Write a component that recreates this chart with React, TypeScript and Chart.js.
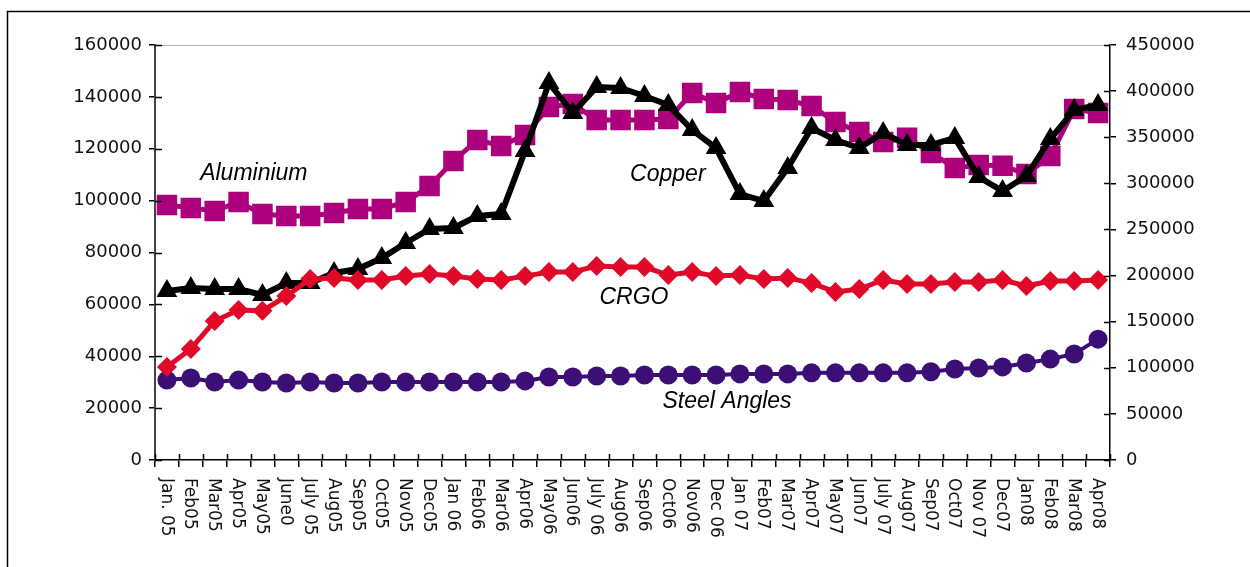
import React, { useEffect, useRef } from "react";
import { Chart, registerables } from "chart.js";

Chart.register(...registerables);

const months = [
  "Jan. 05", "Feb05", "Mar05", "Apr05", "May05", "June0", "July 05", "Aug05", "Sep05", "Oct05", "Nov05", "Dec05",
  "Jan 06", "Feb06", "Mar06", "Apr06", "May06", "Jun06", "July 06", "Aug06", "Sep06", "Oct06", "Nov06", "Dec 06",
  "Jan 07", "Feb07", "Mar07", "Apr07", "May07", "Jun07", "July 07", "Aug07", "Sep07", "Oct07", "Nov 07", "Dec07",
  "Jan08", "Feb08", "Mar08", "Apr08",
];

const aluminium = [
  98300, 97200, 96000, 99500, 94800, 94100, 94100, 95200, 96800, 96800, 99500, 105600,
  115300, 123400, 121100, 125300, 136100, 137300, 131100, 131100, 131100, 131500, 141500, 137600,
  141900, 139200, 138800, 136500, 130300, 126500, 122600, 124200, 118400, 112600, 113700, 113400,
  110300, 117200, 135300, 133800,
];

const copper = [
  183300, 186500, 185400, 185400, 178900, 191900, 191900, 202800, 207100, 219000, 235300, 250500,
  251600, 264600, 266700, 335000, 408800, 376300, 404500, 403400, 394700, 384900, 357800, 338300,
  288400, 280800, 316600, 360000, 347000, 338300, 354600, 341600, 341600, 349200, 306900, 291700,
  308000, 348100, 379500, 384900,
];

const crgo = [
  35900, 42800, 53600, 57800, 57500, 63200, 69800, 70200, 69400, 69400, 70900, 71700,
  70900, 69800, 69400, 70900, 72500, 72500, 74800, 74400, 74400, 71300, 72500, 70900,
  71300, 69800, 70200, 68200, 64800, 65900, 69400, 67900, 67900, 68600, 68600, 69400,
  67100, 69000, 69000, 69400,
];

const steelAngles = [
  30800, 31600, 30100, 30800, 30100, 29700, 30100, 29700, 29700, 30100, 30100, 30100,
  30100, 30100, 30100, 30500, 32000, 32000, 32400, 32400, 32800, 32800, 32800, 32800,
  33200, 33200, 33200, 33600, 33600, 33600, 33600, 33600, 34000, 35100, 35500, 35900,
  37400, 38900, 40900, 46600,
];

const leftAxisMax = 160000;
const leftAxisStep = 20000;
const rightAxisMax = 450000;
const rightAxisStep = 50000;

const seriesNames = ["Aluminium", "Copper", "CRGO", "Steel Angles"];
// annotation anchors in data space: [category index, left-axis value]
const annotationIndex = [3.64, 20.98, 19.56, 23.46];
const annotationValue = [110600, 109900, 62500, 22400];

const overlayPlugin = {
  id: "overlay",
  beforeDraw(chart: any) {
    const ctx = chart.ctx;
    ctx.save();
    ctx.fillStyle = "#ffffff";
    ctx.fillRect(0, 0, chart.width, chart.height);
    ctx.strokeStyle = "#000000";
    ctx.lineWidth = 1.5;
    ctx.strokeRect(7.5, 11.5, 1400, 700);
    const a = chart.chartArea;
    ctx.strokeStyle = "#b0b0b0";
    ctx.lineWidth = 1;
    ctx.beginPath();
    ctx.moveTo(a.left, a.top + 0.5);
    ctx.lineTo(a.right, a.top + 0.5);
    ctx.stroke();
    ctx.restore();
  },
  afterDraw(chart: any) {
    const ctx = chart.ctx;
    const a = chart.chartArea;
    const xs = chart.scales.x;
    const yl = chart.scales.yLeft;
    const yr = chart.scales.yRight;
    ctx.save();
    ctx.strokeStyle = "#000000";
    ctx.lineWidth = 1.5;
    ctx.beginPath();
    for (let v = 0; v <= leftAxisMax; v += leftAxisStep) {
      const y = Math.round(yl.getPixelForValue(v)) + 0.5;
      ctx.moveTo(a.left, y);
      ctx.lineTo(a.left + 7, y);
    }
    for (let v = 0; v <= rightAxisMax; v += rightAxisStep) {
      const y = Math.round(yr.getPixelForValue(v)) + 0.5;
      ctx.moveTo(a.right, y);
      ctx.lineTo(a.right - 6, y);
    }
    const n = months.length;
    for (let i = 0; i <= n; i++) {
      const x = Math.round(xs.getPixelForValue(i - 0.5)) + 0.5;
      ctx.moveTo(x, a.bottom);
      ctx.lineTo(x, a.bottom - 6);
    }
    ctx.stroke();

    ctx.fillStyle = "#111111";
    ctx.font = '17px "DejaVu Sans"';
    ctx.textAlign = "left";
    ctx.textBaseline = "middle";
    months.forEach((m, i) => {
      const x = xs.getPixelForValue(i);
      ctx.save();
      ctx.translate(x - 1, a.bottom + 18);
      ctx.rotate(Math.PI / 2);
      ctx.fillText(m, 0, 0);
      ctx.restore();
    });

    ctx.font = 'italic 23px "Liberation Sans"';
    ctx.textAlign = "center";
    ctx.fillStyle = "#000000";
    seriesNames.forEach((name, i) => {
      const x = xs.getPixelForValue(annotationIndex[i]);
      const y = yl.getPixelForValue(annotationValue[i]);
      ctx.fillText(name, x, y);
    });
    ctx.restore();
  },
};

export default function App() {
  const ref = useRef<HTMLCanvasElement | null>(null);

  useEffect(() => {
    if (!ref.current) return;
    const chart = new Chart(ref.current, {
      type: "line",
      data: {
        labels: months,
        datasets: [
          {
            label: seriesNames[0],
            data: aluminium,
            yAxisID: "yLeft",
            borderColor: "#ad007c",
            backgroundColor: "#ad007c",
            borderWidth: 5,
            pointStyle: "rect",
            pointRadius: 14.5,
            pointBorderWidth: 0,
            order: 2,
          },
          {
            label: seriesNames[1],
            data: copper,
            yAxisID: "yRight",
            borderColor: "#000000",
            backgroundColor: "#000000",
            borderWidth: 6,
            pointStyle: "triangle",
            pointRadius: 12,
            pointBorderWidth: 0,
            order: 1,
          },
          {
            label: seriesNames[2],
            data: crgo,
            yAxisID: "yLeft",
            borderColor: "#e00a28",
            backgroundColor: "#e00a28",
            borderWidth: 5,
            pointStyle: "rectRot",
            pointRadius: 10,
            pointBorderWidth: 0,
            order: 0,
          },
          {
            label: seriesNames[3],
            data: steelAngles,
            yAxisID: "yLeft",
            borderColor: "#3b0f76",
            backgroundColor: "#3b0f76",
            borderWidth: 4,
            pointStyle: "circle",
            pointRadius: 9.5,
            pointBorderWidth: 0,
            order: 3,
          },
        ],
      },
      options: {
        animation: false,
        responsive: false,
        maintainAspectRatio: false,
        layout: { padding: { top: 45, left: 0, right: 0, bottom: 0 } },
        plugins: {
          legend: { display: false },
          tooltip: { enabled: false },
        },
        elements: { line: { tension: 0 } },
        scales: {
          x: {
            type: "category",
            offset: true,
            grid: {
              display: true,
              drawOnChartArea: false,
              drawTicks: true,
              tickLength: 7,
              color: "#000000",
              lineWidth: 1.5,
              offset: true,
            },
            border: { display: true, color: "#000000", width: 1.5 },
            ticks: { display: false },
            afterFit: (s: any) => {
              s.height = 107;
            },
          },
          yLeft: {
            type: "linear",
            position: "left",
            min: 0,
            max: leftAxisMax,
            grid: {
              display: true,
              drawOnChartArea: false,
              drawTicks: true,
              tickLength: 6,
              color: "#000000",
              lineWidth: 1.5,
            },
            border: { display: true, color: "#444444", width: 2 },
            ticks: {
              stepSize: leftAxisStep,
              padding: 7,
              color: "#111111",
              font: { family: "DejaVu Sans", size: 18 },
              callback: (v: any) => String(v),
            },
            afterFit: (s: any) => {
              s.width = 155;
            },
          },
          yRight: {
            type: "linear",
            position: "right",
            min: 0,
            max: rightAxisMax,
            grid: {
              display: true,
              drawOnChartArea: false,
              drawTicks: true,
              tickLength: 6,
              color: "#000000",
              lineWidth: 1.5,
            },
            border: { display: true, color: "#000000", width: 1.5 },
            ticks: {
              stepSize: rightAxisStep,
              padding: 10,
              color: "#111111",
              font: { family: "DejaVu Sans", size: 18 },
              callback: (v: any) => String(v),
            },
            afterFit: (s: any) => {
              s.width = 140;
            },
          },
        },
      },
      plugins: [overlayPlugin],
    });
    return () => chart.destroy();
  }, []);

  return (
    <div style={{ position: "absolute", left: 0, top: 0, width: 1250, height: 567 }}>
      <canvas ref={ref} width={1250} height={567} style={{ display: "block" }} />
    </div>
  );
}
